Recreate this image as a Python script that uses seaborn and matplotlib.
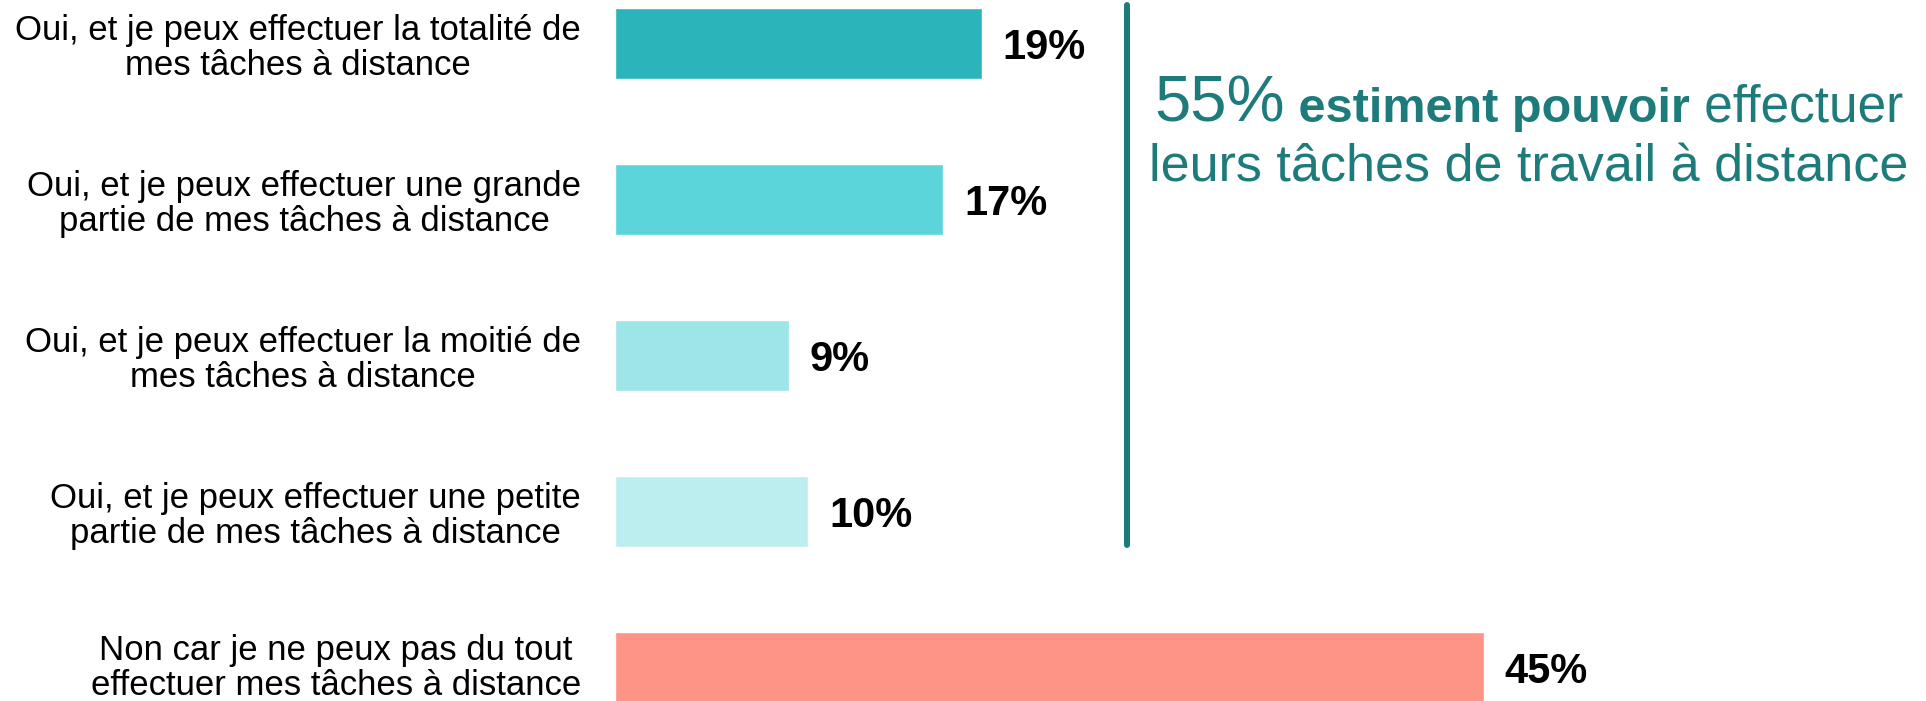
import pandas as pd
import seaborn as sns
import matplotlib.pyplot as plt
from matplotlib.lines import Line2D
from matplotlib.transforms import ScaledTranslation

# données
categories = [
    "Oui, et je peux effectuer la totalité de\nmes tâches à distance",
    "Oui, et je peux effectuer une grande\npartie de mes tâches à distance",
    "Oui, et je peux effectuer la moitié de\nmes tâches à distance",
    "Oui, et je peux effectuer une petite\npartie de mes tâches à distance",
    "Non car je ne peux pas du tout\neffectuer mes tâches à distance",
]
values = [19, 17, 9, 10, 45]
colors = ["#2BB5BA", "#5BD5DA", "#9EE5E8", "#BDEEEF", "#FE9485"]
teal = "#1E7B7B"

df = pd.DataFrame({"cat": categories, "val": values})

sns.set_theme(style="white")
plt.rcParams["font.family"] = ["Liberation Sans", "DejaVu Sans"]

fig = plt.figure(figsize=(19.26, 7.01), dpi=100)
ax = fig.add_axes([615 / 1926, 0, 1 - 615 / 1926, 1])

sns.barplot(data=df, x="val", y="cat", hue="cat", palette=colors,
            legend=False, width=0.455, saturation=1, ax=ax)

ax.set_xlim(0, 67.9)
ax.set_ylim(4.215, -0.279)
ax.set_xlabel("")
ax.set_ylabel("")
ax.set_xticks([])
sns.despine(ax=ax, left=True, bottom=True)
ax.tick_params(axis="y", length=0, pad=24.5, labelsize=25, labelcolor="black")
for lab in ax.get_yticklabels():
    lab.set_multialignment("center")
    lab.set_linespacing(1.07)

for cont in ax.containers:
    txts = ax.bar_label(cont, labels=[f"{v:.0f}%" for v in cont.datavalues],
                        padding=15, fontsize=30, fontweight="bold", color="black")
    for t in txts:
        t.set_verticalalignment("center_baseline")

# ligne verticale
fig.add_artist(Line2D([1127 / 1926, 1127 / 1926], [1 - 5 / 701, 1 - 545 / 701],
                      color=teal, lw=4.3, transform=fig.transFigure))

# texte à droite
fig.canvas.draw()
r = fig.canvas.get_renderer()

# dernier libellé un peu remonté pour qu'il ne soit pas coupé
last = ax.yaxis.get_major_ticks()[-1].label1
last.set_transform(last.get_transform() + ScaledTranslation(0, 4 / 100, fig.dpi_scale_trans))

center = 1529
pieces = [("55%", 47, "normal"), (" estiment pouvoir", 35, "bold"), (" effectuer", 37, "normal")]
objs = []
for s, fs, fw in pieces:
    objs.append(fig.text(0, 0, s, fontsize=fs, fontweight=fw, color=teal, va="baseline"))
widths = [t.get_window_extent(r).width for t in objs]
x = center - sum(widths) / 2
for t, w in zip(objs, widths):
    t.set_position((x / 1926, 1 - 122 / 701))
    x += w

fig.text(center / 1926, 1 - 182 / 701, "leurs tâches de travail à distance",
         fontsize=37.5, color=teal, ha="center", va="baseline")

fig.savefig("out.png", dpi=100)
